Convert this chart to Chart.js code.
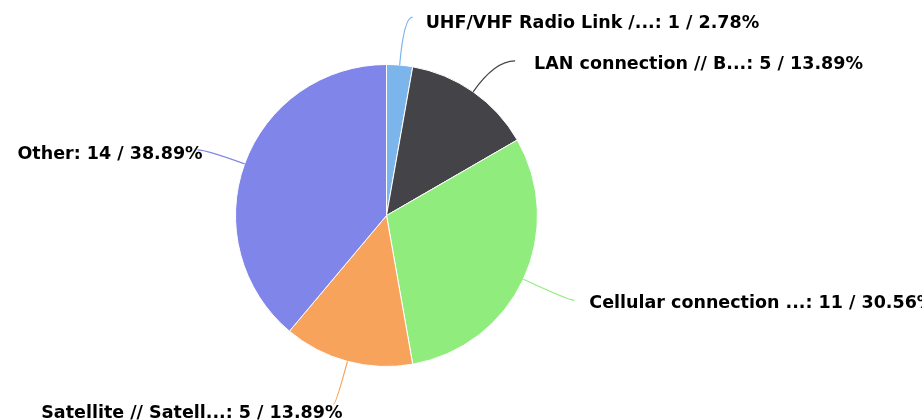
<!DOCTYPE html>
<html>
<head>
<meta charset="utf-8">
<script src="https://cdn.jsdelivr.net/npm/chart.js@4/dist/chart.umd.min.js"></script>
<style>
  html, body { margin: 0; padding: 0; background: #ffffff; }
  #wrap { width: 922px; height: 420px; position: relative; }
</style>
</head>
<body>
<div id="wrap"><canvas id="chart" width="922" height="420"></canvas></div>
<script>
// Connection types and how many sites use each
const categories = [
  'UHF/VHF Radio Link /...',
  'LAN connection // B...',
  'Cellular connection ...',
  'Satellite // Satell...',
  'Other'
];
const counts = [1, 5, 11, 5, 14];
const sliceColors = ['#7cb5ec', '#434348', '#90ed7d', '#f7a35c', '#8085e9'];

// Where each label's connector ends, measured from the slice's outer edge point,
// plus the gap between connector end and text
const labelOffsets = [[13, -48], [42, -31], [51, 21], [-14, 43], [-47, -14]];
const textGaps = [13, 19, 15, -9, -5];
const textLift = [6, 4, 3, 9, 5];

const total = counts.reduce((a, b) => a + b, 0);

const pieLabels = {
  id: 'pieLabels',
  afterDatasetsDraw(chart) {
    const ctx = chart.ctx;
    const meta = chart.getDatasetMeta(0);
    ctx.save();
    ctx.font = 'bold 17.5px "DejaVu Sans", Verdana, sans-serif';
    ctx.textBaseline = 'middle';
    meta.data.forEach((arc, i) => {
      const { x, y, outerRadius, startAngle, endAngle } = arc.getProps(['x', 'y', 'outerRadius', 'startAngle', 'endAngle'], true);
      const mid = (startAngle + endAngle) / 2;
      const cx = Math.cos(mid), cy = Math.sin(mid);
      const p0 = { x: x + outerRadius * cx, y: y + outerRadius * cy };
      const end = { x: p0.x + labelOffsets[i][0], y: p0.y + labelOffsets[i][1] };
      // bend point: along the radial direction until reaching the label's height
      let t = Math.abs(cy) > 0.05 ? (end.y - p0.y) / cy : 0;
      if (t < 0) t = 0;
      const ctrl = { x: p0.x + cx * t, y: p0.y + cy * t };
      ctx.beginPath();
      ctx.moveTo(p0.x, p0.y);
      ctx.quadraticCurveTo(ctrl.x, ctrl.y, end.x, end.y);
      ctx.strokeStyle = sliceColors[i];
      ctx.lineWidth = 1.2;
      ctx.stroke();

      const pct = (counts[i] / total * 100).toFixed(2);
      const text = categories[i] + ': ' + counts[i] + ' / ' + pct + '%';
      const right = end.x >= x;
      ctx.textAlign = right ? 'left' : 'right';
      ctx.fillStyle = '#000000';
      ctx.fillText(text, end.x + (right ? textGaps[i] : -textGaps[i]), end.y + textLift[i]);
    });
    ctx.restore();
  }
};

new Chart(document.getElementById('chart'), {
  type: 'pie',
  data: {
    labels: categories,
    datasets: [{
      data: counts,
      backgroundColor: sliceColors,
      borderColor: '#ffffff',
      borderWidth: 1
    }]
  },
  options: {
    responsive: false,
    animation: false,
    layout: { padding: { top: 64, bottom: 53, left: 0, right: 149 } },
    plugins: {
      legend: { display: false },
      tooltip: { enabled: false }
    }
  },
  plugins: [pieLabels]
});
</script>
</body>
</html>
